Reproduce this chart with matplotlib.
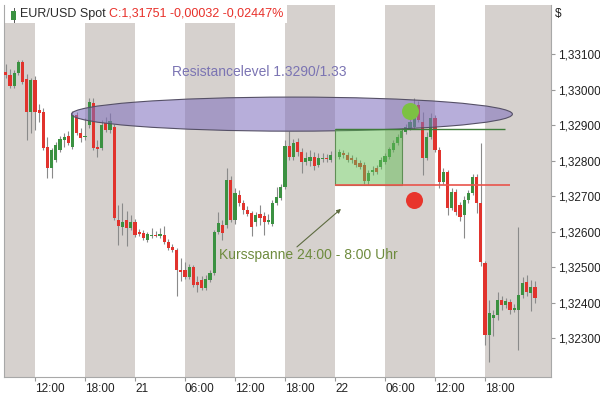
import numpy as np
import pandas as pd
import matplotlib
matplotlib.use('Agg')
import matplotlib.pyplot as plt
import matplotlib.dates as mdates
from matplotlib.patches import Ellipse, Rectangle
from matplotlib.transforms import ScaledTranslation

plt.rcParams['font.family'] = ['Liberation Sans', 'DejaVu Sans']

# EUR/USD Spot, 30-Minuten-Kerzen
start_time = '2013-11-20 08:30'
opens = [1.33051, 1.33042, 1.33011, 1.33048, 1.33079, 1.33031, 1.32938, 1.33028, 1.32944, 1.32938,
         1.32839, 1.32780, 1.32803, 1.32831, 1.32859, 1.32870, 1.32839, 1.32930, 1.32879, 1.32868,
         1.32901, 1.32963, 1.32839, 1.32837, 1.32907, 1.32887, 1.32896, 1.32634, 1.32614, 1.32634,
         1.32611, 1.32628, 1.32600, 1.32597, 1.32577, 1.32590, 1.32592, 1.32589, 1.32592, 1.32572,
         1.32558, 1.32549, 1.32493, 1.32493, 1.32473, 1.32501, 1.32459, 1.32465, 1.32442, 1.32465,
         1.32484, 1.32600, 1.32620, 1.32620, 1.32746, 1.32634, 1.32704, 1.32682, 1.32662, 1.32654,
         1.32628, 1.32651, 1.32645, 1.32628, 1.32622, 1.32682, 1.32696, 1.32727, 1.32842, 1.32811,
         1.32854, 1.32825, 1.32797, 1.32800, 1.32811, 1.32789, 1.32807, 1.32808, 1.32803, 1.32816,
         1.32811, 1.32822, 1.32817, 1.32808, 1.32803, 1.32794, 1.32789, 1.32744, 1.32769, 1.32780,
         1.32783, 1.32797, 1.32811, 1.32831, 1.32851, 1.32865, 1.32882, 1.32893, 1.32896, 1.32958,
         1.32910, 1.32808, 1.32868, 1.32921, 1.32831, 1.32741, 1.32769, 1.32668, 1.32713, 1.32676,
         1.32648, 1.32690, 1.32710, 1.32755, 1.32682, 1.32513, 1.32310, 1.32358, 1.32366, 1.32408,
         1.32394, 1.32403, 1.32380, 1.32380, 1.32423, 1.32459, 1.32428, 1.32445]
highs = [1.33073, 1.33059, 1.33056, 1.33084, 1.33084, 1.33045, 1.33034, 1.33039, 1.32961, 1.32949,
         1.32868, 1.32837, 1.32854, 1.32870, 1.32879, 1.32885, 1.32941, 1.32938, 1.32893, 1.32921,
         1.32977, 1.32977, 1.32859, 1.32915, 1.32924, 1.32935, 1.32904, 1.32676, 1.32682, 1.32659,
         1.32648, 1.32637, 1.32608, 1.32606, 1.32600, 1.32611, 1.32603, 1.32611, 1.32617, 1.32580,
         1.32566, 1.32555, 1.32527, 1.32515, 1.32510, 1.32507, 1.32476, 1.32476, 1.32479, 1.32493,
         1.32606, 1.32656, 1.32634, 1.32780, 1.32758, 1.32724, 1.32718, 1.32690, 1.32673, 1.32659,
         1.32656, 1.32676, 1.32656, 1.32651, 1.32690, 1.32727, 1.32735, 1.32859, 1.32885, 1.32862,
         1.32865, 1.32837, 1.32825, 1.32831, 1.32825, 1.32822, 1.32822, 1.32820, 1.32828, 1.32831,
         1.32834, 1.32831, 1.32825, 1.32817, 1.32811, 1.32803, 1.32797, 1.32775, 1.32786, 1.32789,
         1.32811, 1.32822, 1.32839, 1.32859, 1.32876, 1.32893, 1.32904, 1.32921, 1.32977, 1.32969,
         1.32938, 1.32882, 1.32935, 1.32930, 1.32839, 1.32780, 1.32775, 1.32724, 1.32721, 1.32684,
         1.32701, 1.32718, 1.32763, 1.32763, 1.32851, 1.32518, 1.32408, 1.32380, 1.32431, 1.32420,
         1.32414, 1.32411, 1.32397, 1.32614, 1.32473, 1.32479, 1.32465, 1.32462]
lows = [1.33034, 1.33006, 1.33006, 1.33042, 1.33017, 1.32859, 1.32879, 1.32887, 1.32910, 1.32831,
        1.32752, 1.32752, 1.32797, 1.32825, 1.32839, 1.32845, 1.32834, 1.32873, 1.32854, 1.32859,
        1.32893, 1.32831, 1.32811, 1.32831, 1.32882, 1.32879, 1.32634, 1.32563, 1.32592, 1.32561,
        1.32606, 1.32586, 1.32589, 1.32577, 1.32572, 1.32583, 1.32586, 1.32583, 1.32566, 1.32549,
        1.32544, 1.32420, 1.32462, 1.32468, 1.32468, 1.32445, 1.32431, 1.32437, 1.32437, 1.32459,
        1.32479, 1.32594, 1.32577, 1.32611, 1.32628, 1.32622, 1.32673, 1.32651, 1.32645, 1.32589,
        1.32617, 1.32620, 1.32592, 1.32622, 1.32617, 1.32676, 1.32690, 1.32721, 1.32803, 1.32803,
        1.32814, 1.32766, 1.32789, 1.32786, 1.32775, 1.32783, 1.32797, 1.32797, 1.32797, 1.32808,
        1.32806, 1.32808, 1.32797, 1.32794, 1.32783, 1.32777, 1.32735, 1.32732, 1.32761, 1.32763,
        1.32777, 1.32792, 1.32806, 1.32825, 1.32845, 1.32859, 1.32876, 1.32887, 1.32890, 1.32910,
        1.32761, 1.32803, 1.32862, 1.32825, 1.32724, 1.32735, 1.32648, 1.32662, 1.32648, 1.32631,
        1.32583, 1.32682, 1.32704, 1.32654, 1.32504, 1.32282, 1.32234, 1.32307, 1.32352, 1.32380,
        1.32386, 1.32369, 1.32375, 1.32268, 1.32414, 1.32420, 1.32377, 1.32400]
closes = [1.33042, 1.33011, 1.33048, 1.33079, 1.33023, 1.32938, 1.33028, 1.32938, 1.32935, 1.32837,
          1.32780, 1.32831, 1.32845, 1.32862, 1.32868, 1.32851, 1.32930, 1.32879, 1.32865, 1.32870,
          1.32966, 1.32837, 1.32834, 1.32901, 1.32887, 1.32913, 1.32639, 1.32617, 1.32628, 1.32611,
          1.32628, 1.32592, 1.32594, 1.32583, 1.32594, 1.32592, 1.32590, 1.32594, 1.32572, 1.32555,
          1.32549, 1.32493, 1.32487, 1.32473, 1.32501, 1.32451, 1.32451, 1.32442, 1.32468, 1.32484,
          1.32600, 1.32625, 1.32597, 1.32746, 1.32634, 1.32710, 1.32682, 1.32662, 1.32651, 1.32614,
          1.32648, 1.32639, 1.32628, 1.32634, 1.32682, 1.32699, 1.32727, 1.32842, 1.32811, 1.32851,
          1.32825, 1.32797, 1.32808, 1.32811, 1.32786, 1.32808, 1.32808, 1.32807, 1.32817, 1.32817,
          1.32825, 1.32817, 1.32803, 1.32803, 1.32789, 1.32783, 1.32744, 1.32766, 1.32775, 1.32769,
          1.32803, 1.32814, 1.32834, 1.32851, 1.32868, 1.32885, 1.32896, 1.32910, 1.32930, 1.32915,
          1.32808, 1.32868, 1.32921, 1.32831, 1.32741, 1.32769, 1.32668, 1.32713, 1.32656, 1.32642,
          1.32690, 1.32710, 1.32755, 1.32682, 1.32515, 1.32310, 1.32372, 1.32366, 1.32408, 1.32394,
          1.32406, 1.32380, 1.32386, 1.32423, 1.32456, 1.32431, 1.32445, 1.32414]

y_ticks = [1.323, 1.324, 1.325, 1.326, 1.327, 1.328, 1.329, 1.330, 1.331]
x_ticks = pd.date_range('2013-11-20 12:00', '2013-11-22 18:00', freq='6h')
# graue Hintergrundstreifen (06-12 und 18-24 Uhr)
band_starts = pd.to_datetime(['2013-11-20 06:00', '2013-11-20 18:00', '2013-11-21 06:00',
                              '2013-11-21 18:00', '2013-11-22 06:00', '2013-11-22 18:00'])

# Kursspanne 24:00 - 8:00
range_start = pd.Timestamp('2013-11-22 00:00')
range_end = pd.Timestamp('2013-11-22 08:00')
range_high = 1.32890
range_low = 1.32732
resistance_level = 1.32932

title_name = 'EUR/USD Spot '
title_quote = 'C:1,31751 -0,00032 -0,02447%'

# Figur
fig = plt.figure(figsize=(6, 3.95), dpi=100)
ax = fig.add_axes([4/600, 18/395, 547/600, 372/395])

x_min = mdates.date2num(pd.Timestamp('2013-11-20 08:17'))
x_max = mdates.date2num(pd.Timestamp('2013-11-23 01:55'))
ax.set_xlim(x_min, x_max)
ax.set_ylim(1.321915, 1.332394)

for i, s in enumerate(band_starts):
    a = mdates.date2num(s)
    b = x_max if i == len(band_starts) - 1 else mdates.date2num(s + pd.Timedelta(hours=6))
    ax.axvspan(a, b, color='#d6d1ce', lw=0, zorder=0)

# weisser Kasten hinter dem Titel
ax.add_patch(Rectangle((0, 0.952), 0.517, 0.048, transform=ax.transAxes,
                       color='white', lw=0, zorder=1))

# Kerzen
times = pd.date_range(start_time, periods=len(opens), freq='30min')
x = mdates.date2num(times)
o = np.array(opens)
h = np.array(highs)
l = np.array(lows)
c = np.array(closes)
up = c >= o
colors = np.where(up, '#3b9141', '#e1332d')
body_w = 0.38 / 24

ax.vlines(x, l, h, color='#8a8a8a', lw=0.8, zorder=2)
ax.bar(x, np.maximum(np.abs(c - o), 0.000012), body_w, np.minimum(o, c),
       color=colors, lw=0, zorder=3)

# Widerstandsellipse
ell_center = mdates.date2num(pd.Timestamp('2013-11-21 18:50'))
ax.add_patch(Ellipse((ell_center, resistance_level), 52.9 / 24, 0.00096,
                     facecolor='#806fbd', alpha=0.56, edgecolor='none', zorder=4))
ax.add_patch(Ellipse((ell_center, resistance_level), 52.9 / 24, 0.00096,
                     facecolor='none', edgecolor='#555066', lw=0.8, zorder=4))
ax.text(mdates.date2num(pd.Timestamp('2013-11-21 04:26')), 1.33051,
        'Resistancelevel 1.3290/1.33', color='#7b74b3', fontsize=10,
        ha='left', va='center', zorder=7)

# Kursspanne-Box und Linien
r0 = mdates.date2num(range_start)
r1 = mdates.date2num(range_end)
ax.add_patch(Rectangle((r0, range_low), r1 - r0, range_high - range_low,
                       facecolor='#64be55', alpha=0.5, edgecolor='none', zorder=4))
ax.add_patch(Rectangle((r0, range_low), r1 - r0, range_high - range_low,
                       facecolor='none', edgecolor='#5f8f55', lw=0.8, zorder=4))
ax.hlines(range_high, r0, mdates.date2num(pd.Timestamp('2013-11-22 20:24')),
          color='#3f7d3a', lw=1.0, zorder=5)
ax.hlines(range_low, r0, mdates.date2num(pd.Timestamp('2013-11-22 21:00')),
          color='#e9544c', lw=1.2, zorder=5)

ax.scatter([mdates.date2num(pd.Timestamp('2013-11-22 09:00'))], [1.32941],
           s=150, color='#7cc143', lw=0, zorder=6)
ax.scatter([mdates.date2num(pd.Timestamp('2013-11-22 09:30'))], [1.32690],
           s=150, color='#e8352c', lw=0, zorder=6)

ax.text(mdates.date2num(pd.Timestamp('2013-11-21 10:05')), 1.32535,
        'Kursspanne 24:00 - 8:00 Uhr', color='#6e8b3d', fontsize=10,
        ha='left', va='center', zorder=7)
ax.annotate('', xy=(mdates.date2num(pd.Timestamp('2013-11-22 00:43')), 1.32665),
            xytext=(mdates.date2num(pd.Timestamp('2013-11-21 19:26')), 1.32558),
            arrowprops=dict(arrowstyle='-|>', color='#5d6b40', lw=0.8,
                            mutation_scale=6, shrinkA=0, shrinkB=0), zorder=7)

# Titel
icon_x = 0.0175
ax.add_patch(Rectangle((icon_x - 0.0045, 0.961), 0.009, 0.024, transform=ax.transAxes,
                       color='#3b9141', lw=0, zorder=8))
ax.plot([icon_x, icon_x], [0.955, 0.992], transform=ax.transAxes,
        color='#555555', lw=0.7, zorder=7)
t1 = ax.text(0.0293, 0.977, title_name, transform=ax.transAxes, fontsize=9,
             color='#2b2b2b', ha='left', va='center', zorder=8)
ax.annotate(title_quote, xy=(1, 0), xycoords=t1, va='bottom', ha='left',
            fontsize=9, color='#e8302a', zorder=8)

# Achsen
ax.set_xticks(mdates.date2num(x_ticks))
ax.set_xticklabels([t.strftime('%d') if t.hour == 0 else t.strftime('%H:%M') for t in x_ticks])
offset = ScaledTranslation(1.5 / 72, 0, fig.dpi_scale_trans)
for lab in ax.get_xticklabels():
    lab.set_horizontalalignment('left')
    lab.set_transform(lab.get_transform() + offset)
ax.tick_params(axis='x', length=3, width=0.8, color='#999999', pad=1.5,
               labelsize=8.5, labelcolor='#222222')

ax.yaxis.tick_right()
ax.set_yticks(y_ticks)
ax.set_yticklabels([f'{v:.5f}'.replace('.', ',') for v in y_ticks])
ax.tick_params(axis='y', length=3, width=0.8, color='#999999', pad=2,
               labelsize=8.5, labelcolor='#222222')

for side in ['left', 'right', 'bottom']:
    ax.spines[side].set_color('#a8a8a8')
    ax.spines[side].set_linewidth(0.8)
ax.spines['top'].set_visible(False)

fig.text(555 / 600, 1 - 14 / 395, '$', fontsize=8.5, color='#222222',
         ha='left', va='center')

fig.savefig('out.png', dpi=100)
